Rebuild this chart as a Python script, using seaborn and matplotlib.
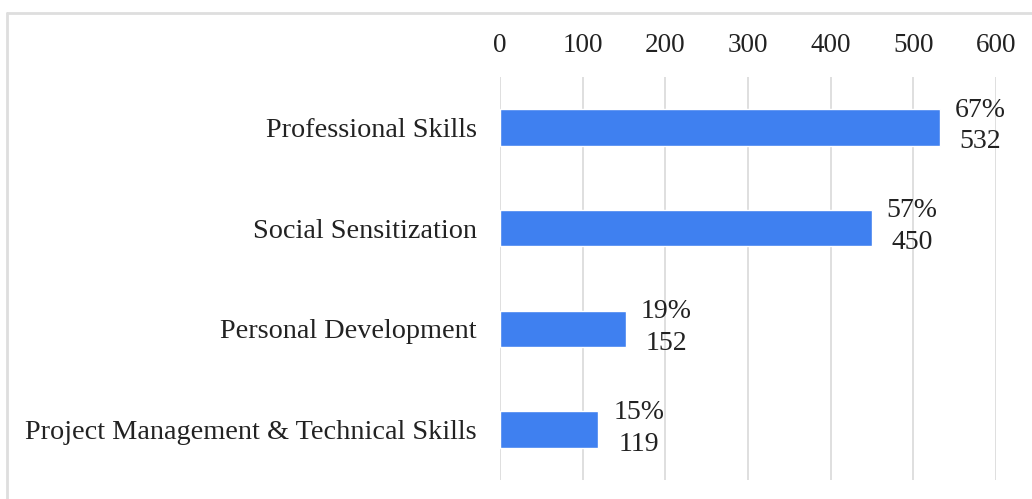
import matplotlib
matplotlib.use("Agg")
import matplotlib.pyplot as plt
from matplotlib.lines import Line2D
import seaborn as sns
import pandas as pd

categories = [
    "Professional Skills",
    "Social Sensitization",
    "Personal Development",
    "Project Management & Technical Skills",
]
counts = [532, 450, 152, 119]
percents = [67, 57, 19, 15]
x_ticks = [0, 100, 200, 300, 400, 500, 600]

sns.set_theme(style="white")
plt.rcParams["font.family"] = ["Liberation Serif", "DejaVu Serif"]

df = pd.DataFrame({"category": categories, "count": counts})

W, H = 1032, 499
fig = plt.figure(figsize=(W / 100, H / 100), dpi=100)
ax = fig.add_axes([500 / W, 1 - 480 / H, 496 / W, 403 / H])

sns.barplot(data=df, y="category", x="count", orient="h", color="#3F80F0",
            width=0.36, saturation=1, ax=ax)

ax.set_xlim(0, 600)
ax.set_ylim(3.5, -0.5)
ax.set_xticks(x_ticks)
ax.set_xticklabels([str(t) for t in x_ticks])
ax.xaxis.tick_top()
ax.tick_params(axis="x", length=0, pad=14, labelsize=19.5, colors="#222222")
ax.tick_params(axis="y", length=0, pad=16.5, labelsize=20.3, colors="#222222")
ax.set_xlabel("")
ax.set_ylabel("")
for s in ax.spines.values():
    s.set_visible(False)
ax.grid(axis="x", color="#d9d9d9", linewidth=1.2)
ax.set_axisbelow(True)

# value labels: percentage over count, to the right of each bar
for i, (c, p) in enumerate(zip(counts, percents)):
    ax.annotate(f"{p}%\n{c}", xy=(c, i), xytext=(29, 1), textcoords="offset points",
                ha="center", va="center", fontsize=20, color="#222222",
                linespacing=1.35, annotation_clip=False)

# light frame along the top and left of the figure
fig.add_artist(Line2D([7 / W, 7 / W], [0, 1 - 13 / H], transform=fig.transFigure,
                      color="#dedede", linewidth=2))
fig.add_artist(Line2D([7 / W, 1], [1 - 13 / H, 1 - 13 / H], transform=fig.transFigure,
                      color="#dedede", linewidth=2))

fig.savefig("out.png", dpi=100)
